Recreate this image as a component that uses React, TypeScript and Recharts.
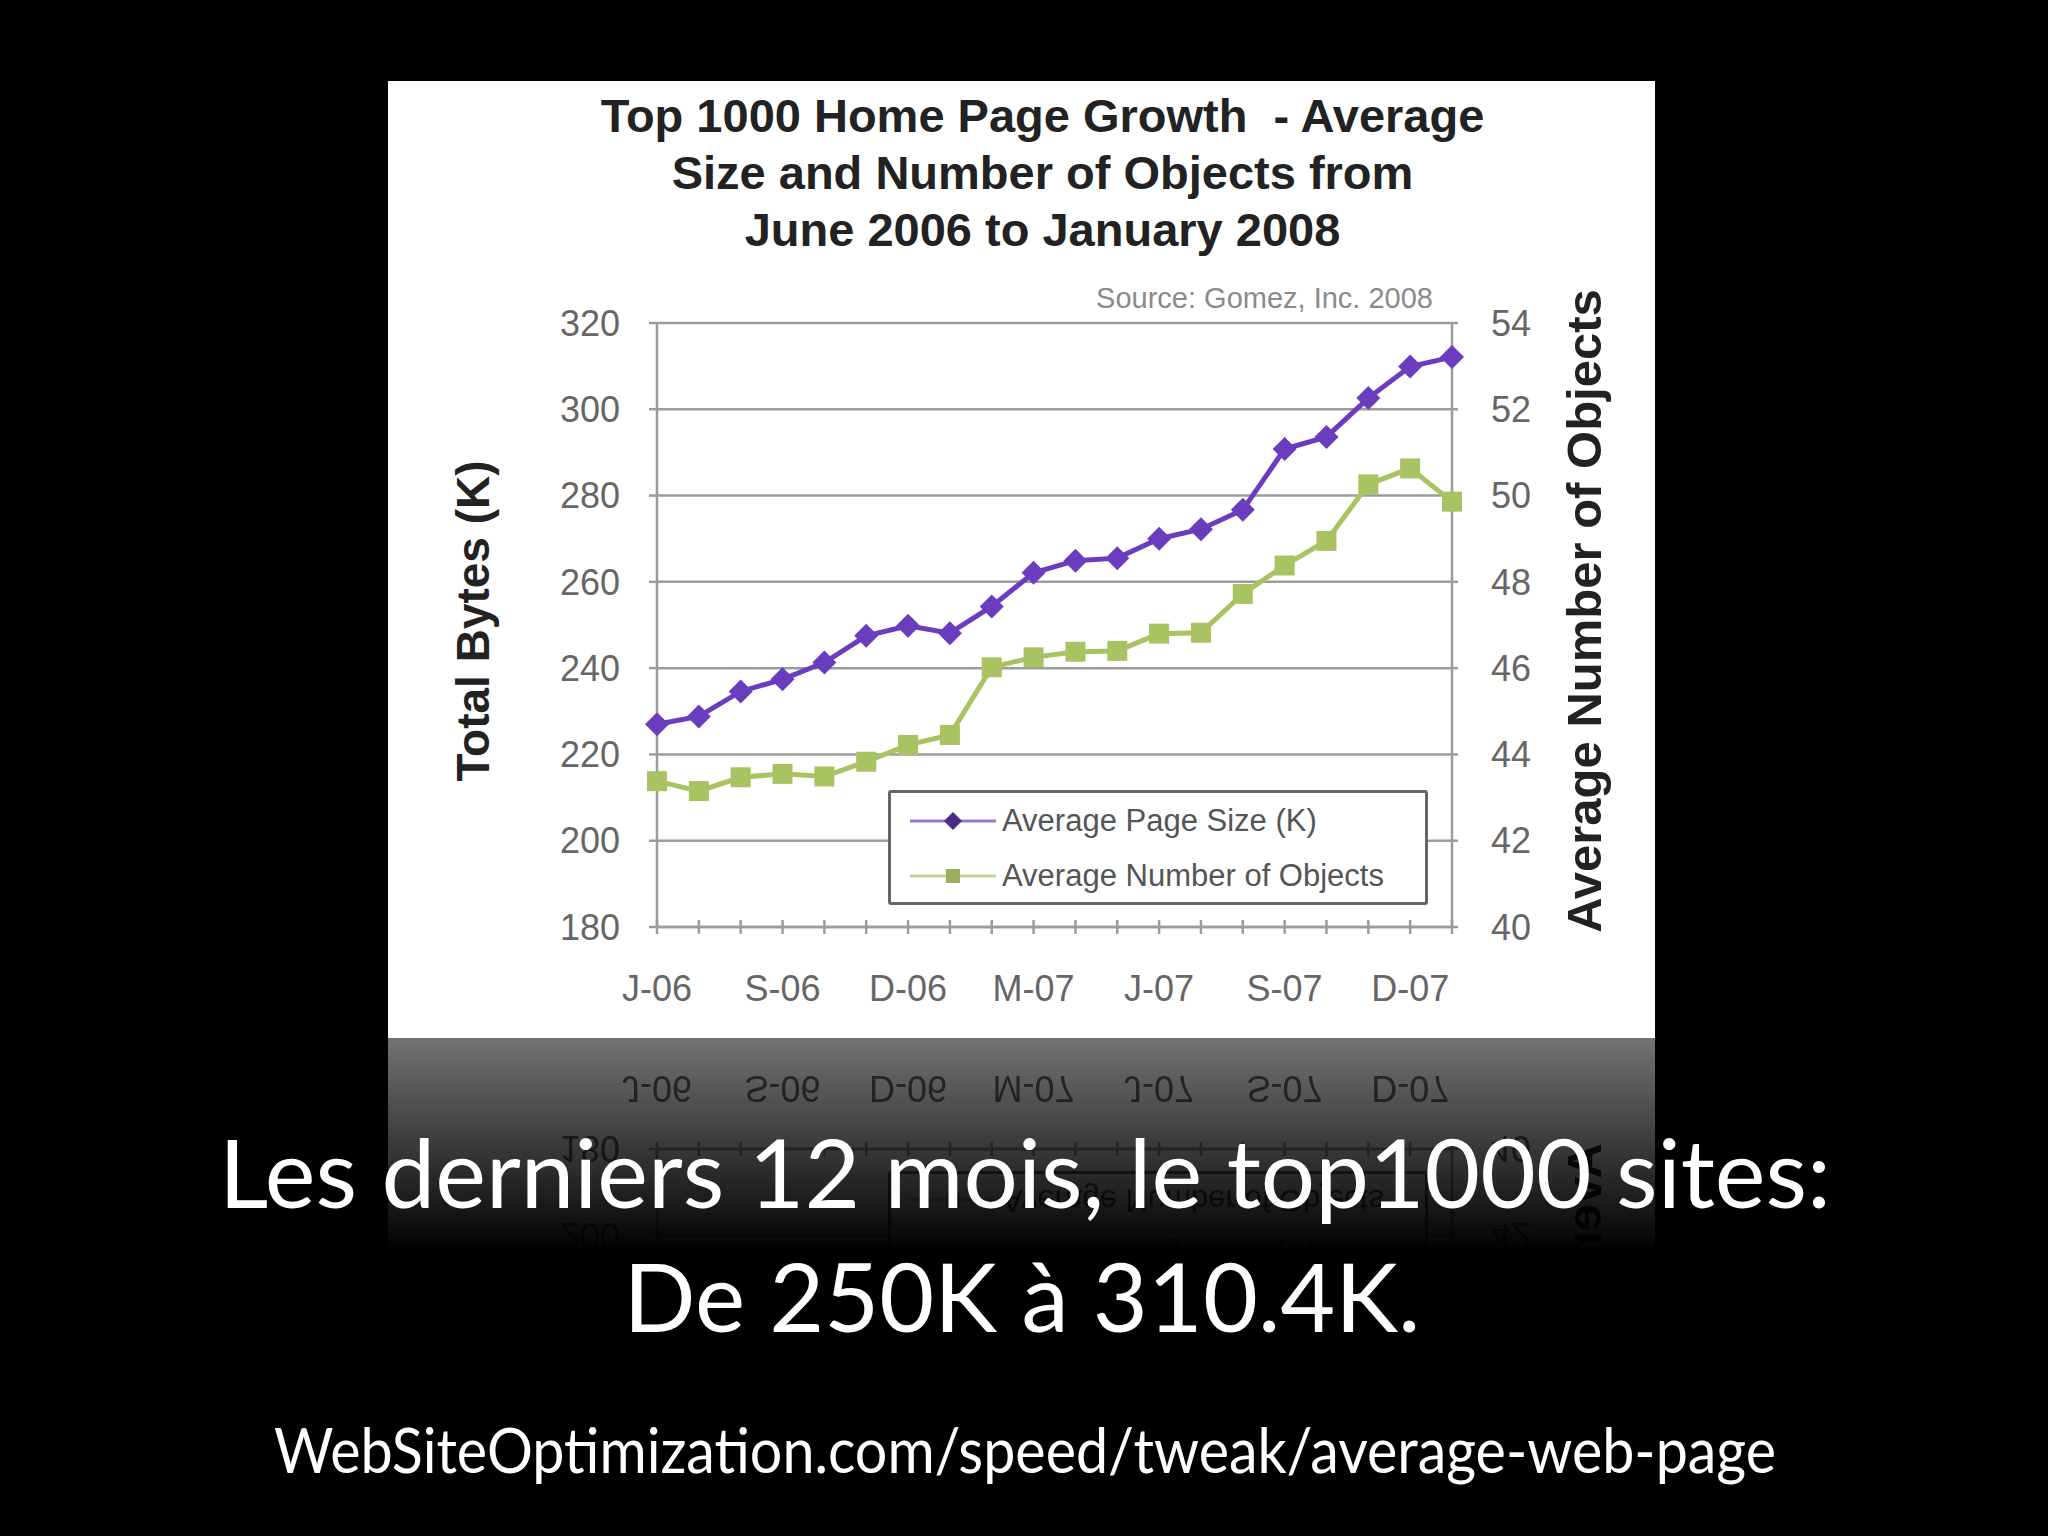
import React from "react";
import { LineChart, Line, XAxis, YAxis, CartesianGrid, Legend, Label } from "recharts";

// monthly samples, June 2006 .. January 2008
const months = [
  "2006-06", "2006-07", "2006-08", "2006-09", "2006-10", "2006-11", "2006-12",
  "2007-01", "2007-02", "2007-03", "2007-04", "2007-05", "2007-06", "2007-07",
  "2007-08", "2007-09", "2007-10", "2007-11", "2007-12", "2008-01",
];
const tickLabels = [
  "J-06", "", "", "S-06", "", "", "D-06", "", "", "M-07", "", "", "J-07", "", "",
  "S-07", "", "", "D-07", "",
];
const pageSizeK = [
  227.0, 228.8, 234.6, 237.4, 241.3, 247.5, 249.8, 248.1, 254.3, 262.1,
  264.9, 265.5, 270.0, 272.2, 276.7, 290.8, 293.6, 302.6, 309.9, 312.1,
];
const objectCount = [
  43.38, 43.15, 43.47, 43.55, 43.49, 43.83, 44.22, 44.45, 46.02, 46.25,
  46.38, 46.40, 46.80, 46.82, 47.72, 48.38, 48.95, 50.26, 50.63, 49.86,
];
const leftTicks = [180, 200, 220, 240, 260, 280, 300, 320];
const rightTicks = [40, 42, 44, 46, 48, 50, 52, 54];

const rows = months.map((m, i) => ({
  month: m,
  size: pageSizeK[i],
  objects: objectCount[i],
}));

const PURPLE = "#6a3dbf";
const GREEN = "#a9c262";
const AXIS = "#9c9c9c";
const FONT = "'Liberation Sans', Arial, sans-serif";

const XTick = (props: any) => {
  const { x, y, index } = props;
  const label = tickLabels[index];
  return (
    <g>
      <line x1={x} x2={x} y1={y - 7} y2={y + 7} stroke={AXIS} strokeWidth={2.5} />
      {label ? (
        <text x={x} y={y + 61} textAnchor="middle" dominantBaseline="central"
          fontSize={36} fill="#666" fontFamily={FONT}>{label}</text>
      ) : null}
    </g>
  );
};

const diamond = (props: any) => {
  const { cx, cy, index } = props;
  const r = 12;
  return <path key={"d" + index} d={`M${cx},${cy - r}L${cx + r},${cy}L${cx},${cy + r}L${cx - r},${cy}Z`} fill={PURPLE} />;
};

const square = (props: any) => {
  const { cx, cy, index } = props;
  const s = 10;
  return <rect key={"s" + index} x={cx - s} y={cy - s} width={2 * s} height={2 * s} fill={GREEN} />;
};

const leftTitle = (p: any) => {
  const vb = p.viewBox;
  const cx = vb.x + 85;
  const cy = vb.y + vb.height / 2 - 4;
  return (
    <text x={cx} y={cy} transform={`rotate(-90 ${cx} ${cy})`} textAnchor="middle"
      dominantBaseline="central" fontSize={46} fontWeight="bold" fill="#222" fontFamily={FONT}>
      Total Bytes (K)
    </text>
  );
};

const rightTitle = (p: any) => {
  const vb = p.viewBox;
  const cx = vb.x + 132;
  const cy = vb.y + vb.height / 2 - 14;
  return (
    <text x={cx} y={cy} transform={`rotate(-90 ${cx} ${cy})`} textAnchor="middle"
      dominantBaseline="central" fontSize={49} fontWeight="bold" fill="#222" fontFamily={FONT}>
      Average Number of Objects
    </text>
  );
};

const renderLegend = (props: any) => {
  const { payload } = props;
  const items = [...payload].sort((a: any, b: any) =>
    (a.dataKey === "size" ? 0 : 1) - (b.dataKey === "size" ? 0 : 1));
  return (
    <div style={{ width: 540, height: 115, boxSizing: "border-box", border: "3px solid #666",
      borderRadius: 3, background: "#fff" }}>
      {items.map((entry: any, i: number) => (
        <div key={i} style={{ display: "flex", alignItems: "center", height: 55 }}>
          <svg width={86} height={30} style={{ marginLeft: 19 }}>
            <line x1={0} x2={86} y1={15} y2={15} stroke={entry.color} strokeWidth={3} opacity={0.7} />
            {entry.dataKey === "size"
              ? <path d="M43,6L52,15L43,24L34,15Z" fill="#4a2c8c" />
              : <rect x={36} y={8} width={14} height={14} fill="#9aae5c" />}
          </svg>
          <span style={{ marginLeft: 6, fontSize: 31, color: "#555", fontFamily: FONT, whiteSpace: "nowrap" }}>
            {entry.value}
          </span>
        </div>
      ))}
    </div>
  );
};

function Chart() {
  return (
    <div style={{ position: "relative", width: 1267, height: 957, background: "#fff" }}>
      <LineChart width={1267} height={957} data={rows}
        margin={{ top: 242, right: 0, bottom: 0, left: 0 }}>
        <CartesianGrid yAxisId="left" vertical={false} stroke={AXIS} strokeWidth={2.5} />
        <XAxis dataKey="month" interval={0} height={111} tick={<XTick />} tickLine={false}
          tickSize={0} tickMargin={0} axisLine={{ stroke: AXIS, strokeWidth: 2.5 }} />
        <YAxis yAxisId="left" domain={[180, 320]} ticks={leftTicks} width={269}
          tickSize={8} tickMargin={29} allowDataOverflow
          tick={{ fill: "#666", fontSize: 36, fontFamily: FONT }}
          tickLine={{ stroke: AXIS, strokeWidth: 2.5 }} axisLine={{ stroke: AXIS, strokeWidth: 2.5 }}>
          <Label content={leftTitle} />
        </YAxis>
        <YAxis yAxisId="right" orientation="right" domain={[40, 54]} ticks={rightTicks} width={203}
          tickSize={6} tickMargin={33} allowDataOverflow
          tick={{ fill: "#666", fontSize: 36, fontFamily: FONT, textAnchor: "start" }}
          tickLine={{ stroke: AXIS, strokeWidth: 2.5 }} axisLine={{ stroke: AXIS, strokeWidth: 2.5 }}>
          <Label content={rightTitle} />
        </YAxis>
        <Legend layout="vertical" align="center" verticalAlign="middle" content={renderLegend}
          wrapperStyle={{ left: 500, top: 709, width: 540, height: 115 }} />
        <Line yAxisId="left" dataKey="size" name="Average Page Size (K)" stroke={PURPLE}
          strokeWidth={5} dot={diamond} activeDot={false} isAnimationActive={false} />
        <Line yAxisId="right" dataKey="objects" name="Average Number of Objects" stroke={GREEN}
          strokeWidth={5} dot={square} activeDot={false} isAnimationActive={false} />
      </LineChart>
      <div style={{ position: "absolute", left: 42, right: 0, top: 6, textAlign: "center",
        fontFamily: FONT, fontWeight: "bold", fontSize: 47, lineHeight: "57px", color: "#222" }}>
        Top 1000 Home Page Growth &nbsp;- Average<br />
        Size and Number of Objects from<br />
        June 2006 to January 2008
      </div>
      <div style={{ position: "absolute", right: 222, top: 203, fontFamily: FONT, fontSize: 29,
        lineHeight: "29px", color: "#8a8a8a" }}>
        Source: Gomez, Inc. 2008
      </div>
    </div>
  );
}

export default function App() {
  const mask = "linear-gradient(to bottom, rgba(0,0,0,0.45), rgba(0,0,0,0) 215px)";
  return (
    <div style={{ position: "absolute", left: 0, top: 0, width: 2048, height: 1536,
      background: "#000", overflow: "hidden" }}>
      <div style={{ position: "absolute", left: 388, top: 81 }}>
        <Chart />
      </div>
      <div style={{ position: "absolute", left: 388, top: 1038, width: 1267, height: 230,
        overflow: "hidden", WebkitMaskImage: mask, maskImage: mask }}>
        <div style={{ transform: "scaleY(-1)", width: 1267, height: 957 }}>
          <Chart />
        </div>
      </div>
      <svg width={2048} height={1536} style={{ position: "absolute", left: 0, top: 0 }}>
        <g fill="#fff" fontFamily="Lato, 'Open Sans', sans-serif" textAnchor="middle">
          <text x={1025} y={1208} fontSize={95} textLength={1612} lengthAdjust="spacingAndGlyphs">
            Les derniers 12 mois, le top1000 sites:
          </text>
          <text x={1022} y={1332} fontSize={95} textLength={797} lengthAdjust="spacingAndGlyphs">
            De 250K à 310.4K.
          </text>
          <text x={1025} y={1473} fontSize={62} textLength={1502} lengthAdjust="spacingAndGlyphs">
            WebSiteOptimization.com/speed/tweak/average-web-page
          </text>
        </g>
      </svg>
    </div>
  );
}
